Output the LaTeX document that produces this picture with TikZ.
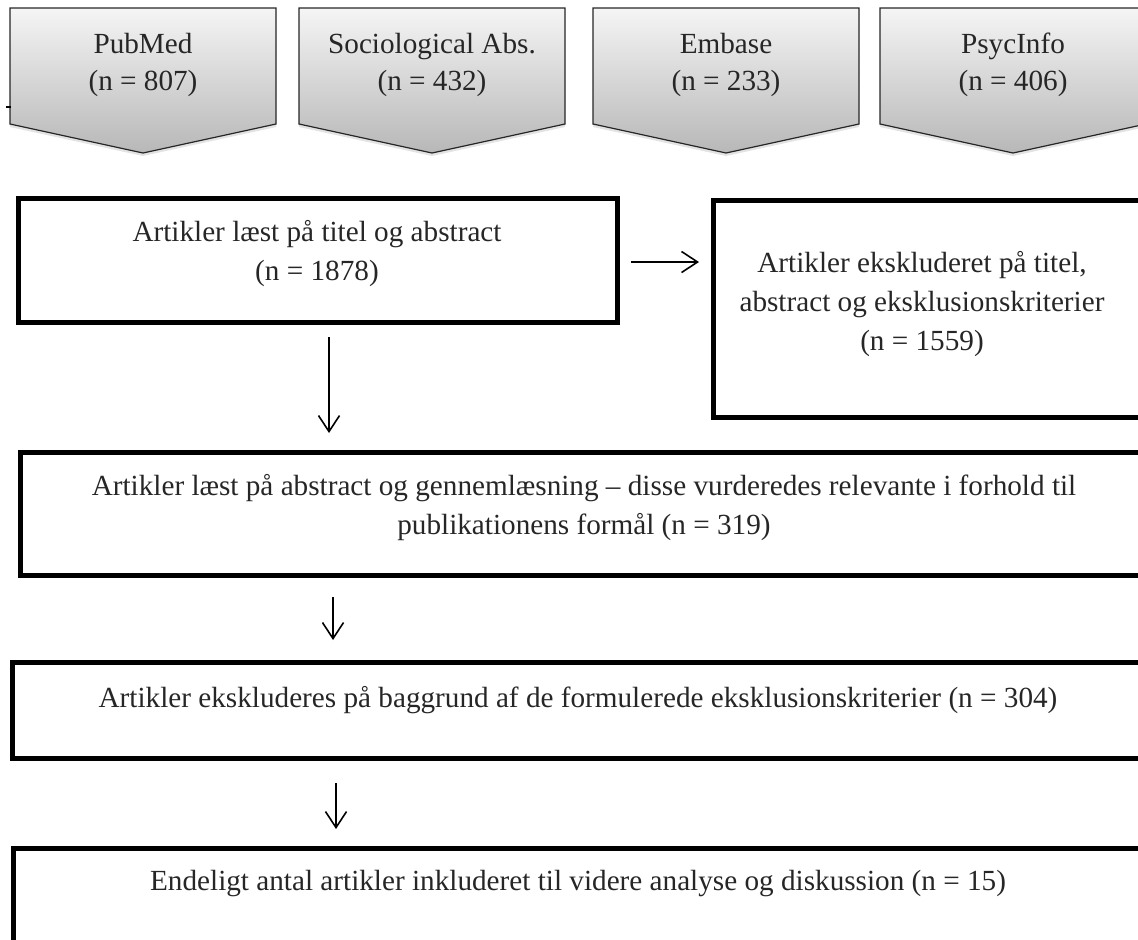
\documentclass[tikz,border=0pt]{standalone}
\usepackage{fontspec}
\setmainfont{Liberation Serif}
\usetikzlibrary{arrows.meta,shadows}
\begin{document}
\begin{tikzpicture}[x=0.5pt,y=-0.5pt,
  chev/.style={top color=black!4, bottom color=black!28, draw=black!85, line width=0.6pt,
    drop shadow={opacity=0.22,shadow xshift=0pt,shadow yshift=-1.5pt}},
  chevtext/.style={align=center, font=\fontsize{14.6}{18.5}\selectfont, text=black!85},
  box/.style={draw=black, line width=2.5pt, inner sep=0pt, outer sep=0pt, anchor=north west},
  boxtext/.style={align=center, font=\fontsize{14.6}{19.5}\selectfont, text=black!85},
  arr/.style={-{Straight Barb[length=8pt,width=10.5pt,line width=0.8pt]}, line width=0.8pt}
]
\useasboundingbox (0,0) rectangle (1138,939);
\clip (0,0) rectangle (1138,939);

% source chevrons
\path[chev] (10,8) -- (276,8) -- (276,124) -- (143,153) -- (10,124) -- cycle;
\path[chev] (299,8) -- (565,8) -- (565,124) -- (432,153) -- (299,124) -- cycle;
\path[chev] (593,8) -- (859,8) -- (859,124) -- (726,153) -- (593,124) -- cycle;
\path[chev] (880,8) -- (1146,8) -- (1146,124) -- (1013,153) -- (880,124) -- cycle;
\draw[line width=0.6pt] (6,107) -- (11,107);

\node[chevtext] (s1) at (143,65) {PubMed\\(n = 807)};
\node[chevtext] (s2) at (432,65) {Sociological Abs.\\(n = 432)};
\node[chevtext] (s3) at (726,65) {Embase\\(n = 233)};
\node[chevtext] (s4) at (1013,65) {PsycInfo\\(n = 406)};

% boxes
\node[box, minimum width=299.5pt, minimum height=62pt] (b1) at (18,198) {};
\node[box, minimum width=218.5pt, minimum height=108.5pt] (b2) at (713,200) {};
\node[box, minimum width=565pt, minimum height=61.5pt] (b3) at (20,452) {};
\node[box, minimum width=569pt, minimum height=48pt] (b4) at (12,662) {};
\node[box, minimum width=568.5pt, minimum height=60pt] (b5) at (13,848) {};

\node[boxtext] (t1) at (317,254) {Artikler læst på titel og abstract\\(n = 1878)};
\node[boxtext] (t2) at (922,304) {Artikler ekskluderet på titel,\\abstract og eksklusionskriterier\\(n = 1559)};
\node[boxtext] (t3) at (584,508) {Artikler læst på abstract og gennemlæsning – disse vurderedes relevante i forhold til\\publikationens formål (n = 319)};
\node[boxtext] (t4) at (578,700) {Artikler ekskluderes på baggrund af de formulerede eksklusionskriterier (n = 304)};
\node[boxtext] (t5) at (578,883) {Endeligt antal artikler inkluderet til videre analyse og diskussion (n = 15)};

% connectors
\coordinate (c1) at (329,0);
\coordinate (c2) at (333,0);
\coordinate (c3) at (336,0);
\coordinate (cr) at (0,262);
\draw[arr, shorten <=7.5pt, shorten >=9.5pt] (b1.south -| c1) -- (b3.north -| c1);
\draw[arr, shorten <=11pt, shorten >=11pt] (b3.south -| c2) -- (b4.north -| c2);
\draw[arr, shorten <=12.5pt, shorten >=9.5pt] (b4.south -| c3) -- (b5.north -| c3);
\draw[arr, shorten <=7pt, shorten >=7pt] (b1.east |- cr) -- (b2.west |- cr);
\end{tikzpicture}
\end{document}
